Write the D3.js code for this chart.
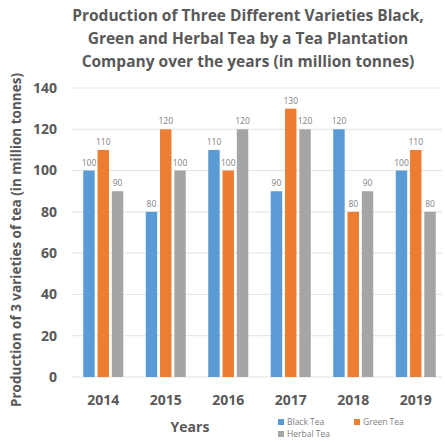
<!DOCTYPE html>
<html>
<head>
<meta charset="utf-8">
<style>
  body { margin: 0; background: #fff; }
  text { font-family: "Open Sans", sans-serif; }
</style>
</head>
<body>
<svg width="445" height="443"></svg>
<script src="https://d3js.org/d3.v7.min.js"></script>
<script>

var years = ["2014", "2015", "2016", "2017", "2018", "2019"],
    seriesNames = ["Black Tea", "Green Tea", "Herbal Tea"],
    blackTea = [100, 80, 110, 90, 120, 100],
    greenTea = [110, 120, 100, 130, 80, 110],
    herbalTea = [90, 100, 120, 120, 90, 80],
    yTicks = [0, 20, 40, 60, 80, 100, 120, 140];

var colors = ["#5b9bd5", "#ed7d31", "#a5a5a5"],
    textColor = "#595959";

var svg = d3.select("svg"),
    margin = {left: 72, right: 0, top: 88, bottom: 66},
    width = +svg.attr("width"),
    height = +svg.attr("height");

var rows = years.map(function(y, i) {
  return {year: y, values: [blackTea[i], greenTea[i], herbalTea[i]]};
});

var x0 = d3.scaleBand()
    .domain(years)
    .range([margin.left, 447])
    .paddingInner(0.36)
    .paddingOuter(0.18);

var x1 = d3.scaleBand()
    .domain(d3.range(3))
    .range([0, x0.bandwidth()])
    .paddingInner(0.2);

var y = d3.scaleLinear()
    .domain([0, 140])
    .range([377, 88]);

// gridlines
svg.append("g")
  .selectAll("line")
  .data(yTicks)
  .enter().append("line")
    .attr("x1", margin.left)
    .attr("x2", 442)
    .attr("y1", function(d) { return y(d); })
    .attr("y2", function(d) { return y(d); })
    .attr("stroke", "#e3e3e3")
    .attr("stroke-width", 1);

// y tick labels
svg.append("g")
  .selectAll("text")
  .data(yTicks)
  .enter().append("text")
    .attr("x", 57)
    .attr("y", function(d) { return y(d); })
    .attr("dy", "0.35em")
    .attr("text-anchor", "end")
    .attr("font-size", 14)
    .attr("font-weight", "bold")
    .attr("fill", textColor)
    .text(function(d) { return d; });

// bars
var groups = svg.append("g")
  .selectAll("g")
  .data(rows)
  .enter().append("g")
    .attr("transform", function(d) { return "translate(" + x0(d.year) + ",0)"; });

groups.selectAll("rect")
  .data(function(d) { return d.values; })
  .enter().append("rect")
    .attr("x", function(d, i) { return x1(i); })
    .attr("y", function(d) { return y(d); })
    .attr("width", x1.bandwidth())
    .attr("height", function(d) { return y(0) - y(d); })
    .attr("fill", function(d, i) { return colors[i]; });

groups.selectAll("text")
  .data(function(d) { return d.values; })
  .enter().append("text")
    .attr("x", function(d, i) { return x1(i) + x1.bandwidth() / 2; })
    .attr("y", function(d) { return y(d) - 5; })
    .attr("text-anchor", "middle")
    .attr("font-size", 8.5)
    .attr("fill", "#7f7f7f")
    .text(function(d) { return d; });

// x tick labels
svg.append("g")
  .selectAll("text")
  .data(years)
  .enter().append("text")
    .attr("x", function(d) { return x0(d) + x0.bandwidth() / 2; })
    .attr("y", 405)
    .attr("text-anchor", "middle")
    .attr("font-size", 14)
    .attr("font-weight", "bold")
    .attr("fill", textColor)
    .text(function(d) { return d; });

// axis titles
svg.append("text")
    .attr("x", 190)
    .attr("y", 432)
    .attr("text-anchor", "middle")
    .attr("font-size", 14)
    .attr("font-weight", "bold")
    .attr("fill", textColor)
    .text("Years");

svg.append("text")
    .attr("transform", "translate(21,240) rotate(-90)")
    .attr("text-anchor", "middle")
    .attr("font-size", 13.5)
    .attr("font-weight", "bold")
    .attr("fill", textColor)
    .text("Production of 3 varieties of tea (in million tonnes)");

// title
var title = ["Production of Three Different Varieties Black,",
             "Green and Herbal Tea by a Tea Plantation",
             "Company over the years (in million tonnes)"];
svg.append("g")
  .selectAll("text")
  .data(title)
  .enter().append("text")
    .attr("x", 248)
    .attr("y", function(d, i) { return 21 + i * 23; })
    .attr("text-anchor", "middle")
    .attr("font-size", 15.5)
    .attr("font-weight", "bold")
    .attr("fill", textColor)
    .text(function(d) { return d; });

// legend
var legendPos = [[278, 425], [354, 425], [278, 437]];
var legend = svg.append("g")
  .selectAll("g")
  .data(seriesNames)
  .enter().append("g")
    .attr("transform", function(d, i) { return "translate(" + legendPos[i][0] + "," + legendPos[i][1] + ")"; });

legend.append("rect")
    .attr("x", 0)
    .attr("y", -6)
    .attr("width", 6)
    .attr("height", 6)
    .attr("fill", function(d, i) { return colors[i]; });

legend.append("text")
    .attr("x", 9)
    .attr("y", 0)
    .attr("font-size", 8.5)
    .attr("fill", "#7f7f7f")
    .text(function(d) { return d; });

</script>
</body>
</html>
